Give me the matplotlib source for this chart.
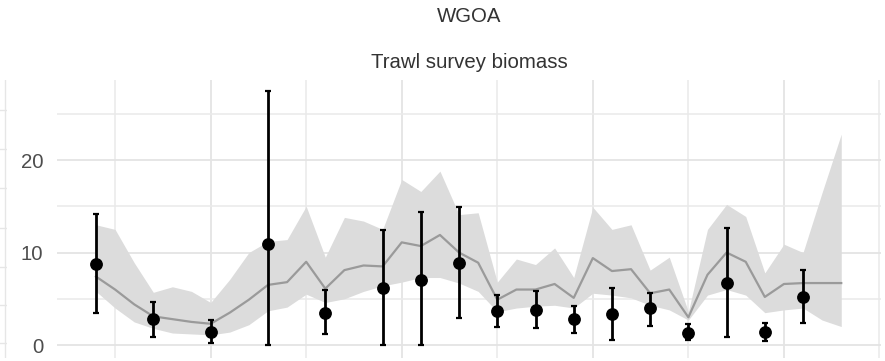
import matplotlib
matplotlib.use("Agg")
import matplotlib.pyplot as plt
import numpy as np

plt.rcParams['font.family'] = ['Liberation Sans', 'DejaVu Sans']

# Survey observations
obs_years = [1984, 1987, 1990, 1993, 1996, 1999, 2001, 2003, 2005, 2007,
             2009, 2011, 2013, 2015, 2017, 2019, 2021]
obs_val = [8.8, 2.8, 1.4, 10.9, 3.5, 6.2, 7.0, 8.9, 3.7, 3.8,
           2.8, 3.4, 4.0, 1.3, 6.7, 1.4, 5.2]
obs_hi = [14.2, 4.7, 2.7, 27.5, 5.9, 12.4, 14.4, 14.9, 5.4, 5.8,
          4.2, 6.2, 5.6, 2.3, 12.7, 2.4, 8.1]
obs_lo = [3.5, 0.9, 0.2, 0.0, 1.2, 0.0, 0.0, 2.9, 2.0, 1.8,
          1.3, 0.5, 2.1, 0.5, 0.9, 0.4, 2.4]

# Model fit (annual)
mod_years = list(range(1984, 2024))
mod_val = [7.4, 6.0, 4.4, 3.1, 2.8, 2.5, 2.3, 3.5, 4.9, 6.5,
           6.8, 9.0, 6.1, 8.1, 8.6, 8.5, 11.1, 10.7, 11.9, 10.0,
           8.9, 4.9, 6.0, 6.0, 6.6, 5.1, 9.4, 8.0, 8.2, 5.6,
           6.0, 3.0, 7.6, 10.0, 9.0, 5.2, 6.6, 6.7, 6.7, 6.7]
mod_hi = [13.0, 12.5, 8.9, 5.7, 6.3, 5.8, 4.6, 7.1, 10.0, 11.2,
          11.4, 15.0, 9.5, 13.8, 13.4, 12.5, 17.9, 16.6, 18.8, 14.1,
          14.3, 6.8, 9.3, 8.7, 10.5, 7.3, 14.9, 12.5, 13.0, 8.1,
          9.5, 3.6, 12.5, 15.2, 13.9, 7.8, 10.9, 10.0, 16.5, 22.8]
mod_lo = [5.8, 4.0, 2.5, 1.8, 1.3, 1.2, 1.1, 1.4, 2.2, 3.7,
          4.1, 5.5, 4.6, 5.0, 5.8, 6.4, 6.8, 7.3, 7.3, 6.7,
          5.8, 3.6, 4.0, 4.2, 4.3, 4.0, 5.6, 5.4, 5.1, 4.3,
          3.8, 2.7, 5.4, 6.0, 5.4, 3.5, 3.8, 4.0, 2.7, 2.0]

y_major = [0, 10, 20]
y_minor = [5, 15, 25]
x_major = [1990, 2000, 2010, 2020]
x_minor = [1985, 1995, 2005, 2015, 2025]

W, H = 885, 361
fig = plt.figure(figsize=(W / 100, H / 100), dpi=100)

# panel in pixels
left, right, top, bottom = 57, 881, 80, 358
ax = fig.add_axes([left / W, (H - bottom) / H, (right - left) / W, (bottom - top) / H])

ax.fill_between(mod_years, mod_lo, mod_hi, color='#dcdcdc', lw=0, zorder=2)
ax.plot(mod_years, mod_val, color='#9a9a9a', lw=1.6, zorder=3)
obs_val_a = np.array(obs_val)
yerr = [obs_val_a - np.array(obs_lo), np.array(obs_hi) - obs_val_a]
ax.errorbar(obs_years, obs_val, yerr=yerr, fmt='o', color='black', ms=8.2,
            elinewidth=2.0, capsize=2.0, capthick=1.6, zorder=4)

ax.set_xlim(1981.96, 2025.08)
ax.set_ylim(-1.4, 28.65)
ax.set_yticks(y_major)
ax.set_yticks(y_minor, minor=True)
ax.set_xticks(x_major)
ax.set_xticks(x_minor, minor=True)
ax.grid(which='major', color='#e4e4e4', lw=1.3, zorder=0)
ax.grid(which='minor', color='#eaeaea', lw=1.1, zorder=0)
ax.set_axisbelow(True)
for s in ax.spines.values():
    s.set_visible(False)
ax.tick_params(which='both', length=0)
ax.tick_params(axis='y', labelsize=14.7, labelcolor='#4d4d4d', pad=10)
ax.tick_params(axis='x', labelbottom=False)

# fragment of neighbouring panel at the left edge
axl = fig.add_axes([-60 / W, (H - bottom) / H, 67 / W, (bottom - top) / H])
axl.set_xlim(-60, 7)
axl.set_ylim(0, 278)
axl.set_xticks([5])
axl.set_yticks([248, 209, 170, 130, 91, 53, 15])
axl.grid(True, color='#e6e6e6', lw=1.0)
axl.tick_params(length=0, labelleft=False, labelbottom=False)
for s in axl.spines.values():
    s.set_visible(False)
axl.patch.set_alpha(0)

fig.text(469 / W, 1 - 17 / H, 'WGOA', ha='center', va='center',
         fontsize=14.7, color='#333333')
fig.text(469 / W, 1 - 62 / H, 'Trawl survey biomass', ha='center', va='center',
         fontsize=14.7, color='#333333')

fig.savefig('out.png', dpi=100)
